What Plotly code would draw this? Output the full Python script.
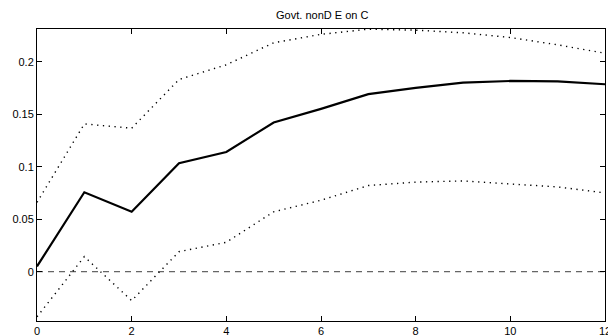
import plotly.graph_objects as go

horizon = list(range(13))
response = [0.005, 0.0756, 0.0571, 0.1032, 0.114, 0.142, 0.155, 0.169, 0.175, 0.180, 0.1816, 0.1812, 0.1785]
upper = [0.066, 0.1407, 0.1366, 0.183, 0.197, 0.218, 0.226, 0.2309, 0.230, 0.2275, 0.223, 0.216, 0.208]
lower = [-0.043, 0.0143, -0.0276, 0.019, 0.028, 0.057, 0.068, 0.082, 0.0853, 0.0864, 0.0835, 0.0807, 0.075]
zero = [0.0] * 13
title_text = "Govt. nonD E on C"
y_ticks = [0, 0.05, 0.1, 0.15, 0.2]
y_tick_labels = ["0", "0.05", "0.1", "0.15", "0.2"]
x_ticks = [0, 2, 4, 6, 8, 10, 12]

fig = go.Figure()
fig.add_trace(go.Scatter(x=horizon, y=zero, mode="lines",
                         line=dict(color="#666666", width=1.2, dash="6px,5px"), hoverinfo="skip"))
fig.add_trace(go.Scatter(x=horizon, y=upper, mode="lines",
                         line=dict(color="black", width=1.4, dash="1.3px,4.5px")))
fig.add_trace(go.Scatter(x=horizon, y=lower, mode="lines",
                         line=dict(color="black", width=1.4, dash="1.3px,4.5px")))
fig.add_trace(go.Scatter(x=horizon, y=response, mode="lines",
                         line=dict(color="black", width=2.2)))

fig.update_layout(
    template="none",
    width=608, height=335,
    margin=dict(l=37, r=3, t=29, b=14),
    showlegend=False,
    paper_bgcolor="white", plot_bgcolor="white",
    font=dict(family="Liberation Sans, Arial, sans-serif", size=11, color="black"),
    title=dict(text=title_text, x=0.53, xanchor="center", y=1 - 15 / 335, yanchor="middle",
               font=dict(size=11, color="black")),
)
fig.update_xaxes(range=[0, 12], tickvals=x_ticks, ticks="inside", ticklen=5, tickcolor="black",
                 showline=True, linecolor="black", linewidth=1, mirror="ticks",
                 showgrid=False, zeroline=False, automargin=False, tickfont=dict(size=11),
                 ticklabeloverflow="allow")
fig.update_yaxes(range=[-0.047, 0.2311], tickvals=y_ticks, ticktext=y_tick_labels,
                 ticks="inside", ticklen=5, tickcolor="black",
                 showline=True, linecolor="black", linewidth=1, mirror="ticks",
                 showgrid=False, zeroline=False, automargin=False, tickfont=dict(size=11),
                 ticklabeloverflow="allow")

fig.write_html("out.html")
